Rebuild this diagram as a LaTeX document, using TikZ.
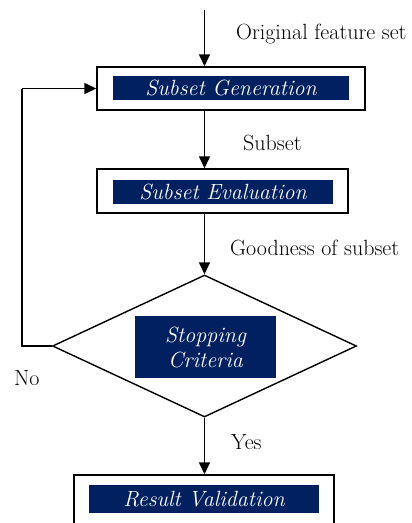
\documentclass[tikz,border=0pt]{standalone}
\usetikzlibrary{shapes.geometric,arrows.meta}
\definecolor{navy}{RGB}{0,32,96}
\tikzset{
  px/.style={x=1pt,y=-1pt},
  arr/.style={line width=1.4pt,-{Triangle[length=12pt,width=11pt]}},
  ln/.style={line width=1.4pt},
  outerbox/.style={draw,line width=1.4pt,rectangle,inner sep=0pt,fill=white},
  bluebox/.style={fill=navy,text=white,inner sep=0pt,font=\itshape\fontsize{22}{25}\selectfont,align=center},
  lbl/.style={anchor=west,inner sep=0pt,font=\fontsize{22}{25}\selectfont}
}
\begin{document}
\begin{tikzpicture}[px]
\useasboundingbox (0,0) rectangle (412,523);
\clip (0,0) rectangle (412,523);
% outer boxes
\node[outerbox,minimum width=268pt,minimum height=43pt] (g) at (231,88.5) {};
\node[outerbox,minimum width=251pt,minimum height=44pt] (e) at (222.5,191) {};
\node[draw,line width=1.4pt,diamond,inner sep=0pt,minimum width=304pt,minimum height=142pt] (s) at (204.5,346) {};
\node[outerbox,minimum width=260pt,minimum height=70pt] (r) at (204,510) {};
% inner blue labels
\node[bluebox,minimum width=236pt,minimum height=24pt] (gt) at (231,88) {Subset Generation};
\node[bluebox,minimum width=220pt,minimum height=24pt] (et) at (223,192) {Subset Evaluation};
\node[bluebox,minimum width=141pt,minimum height=62pt] (st) at (205.5,347) {Stopping\\Criteria};
\node[bluebox,minimum width=230pt,minimum height=28pt] (rt) at (204,499) {Result Validation};
% connectors
\coordinate (top) at (204.5,10);
\coordinate (fbl) at (22,346);
\coordinate (fbu) at (22,88.5);
\draw[arr] (top) -- (top |- g.north);
\draw[arr] (g.south -| top) -- (e.north -| top);
\draw[arr] (e.south -| top) -- (s.north);
\draw[arr] (s.south) -- (r.north -| s.south);
\draw[ln] (s.west) -- (fbl) -- (fbu);
\draw[arr] (fbu) -- (g.west);
% labels
\node[lbl] (l1) at (236,34) {Original feature set};
\node[lbl] (l2) at (243,143) {Subset};
\node[lbl] (l3) at (230,248) {Goodness of subset};
\node[lbl] (l4) at (14,378) {No};
\node[lbl] (l5) at (231,442) {Yes};
\end{tikzpicture}
\end{document}
